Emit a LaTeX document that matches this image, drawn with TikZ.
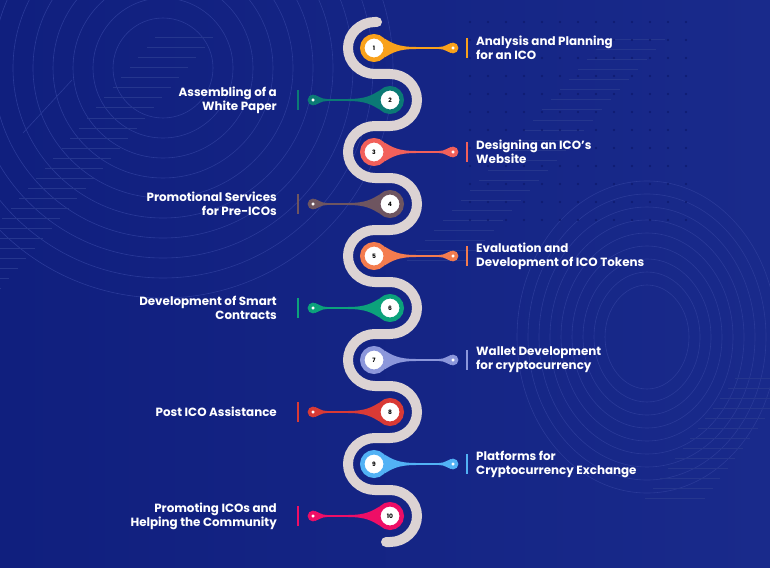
\documentclass[tikz,border=0pt]{standalone}
\usepackage{fontspec}
\setmainfont{Poppins}
\usetikzlibrary{calc}
\definecolor{bgA}{HTML}{101F7E}
\definecolor{bgB}{HTML}{192A8B}
\definecolor{ringc}{HTML}{2A3A99}
\definecolor{stripec}{HTML}{25368E}
\definecolor{dotc}{HTML}{0E1A6E}
\definecolor{serpc}{HTML}{DCD3D3}
\definecolor{c1}{HTML}{F9A11B}
\definecolor{c2}{HTML}{0B7A75}
\definecolor{c3}{HTML}{F2605A}
\definecolor{c4}{HTML}{6E5560}
\definecolor{c5}{HTML}{F47C4E}
\definecolor{c6}{HTML}{0CA27B}
\definecolor{c7}{HTML}{8C97DB}
\definecolor{c8}{HTML}{D93A35}
\definecolor{c9}{HTML}{52B2F5}
\definecolor{c10}{HTML}{EE0E66}
\tikzset{
  pinc/.style={circle, fill=white, line width=4.5pt, minimum size=23.5pt, inner sep=0pt, text=black, font=\bfseries\fontsize{6}{6}\selectfont},
  pine/.style={circle, fill=white, line width=3.5pt, minimum size=7pt, inner sep=0pt},
  lbl/.style={text=white, inner sep=0pt, font=\bfseries\fontsize{11.9}{14}\selectfont},
  sepbar/.style={line width=1.5pt},
  serp/.style={draw=serpc, line width=10pt, line cap=round},
  bgring/.style={draw=ringc, line width=0.6pt},
  bgstripe/.style={draw=stripec, line width=1pt}
}
\newcommand{\pinright}[4]{%
  \coordinate (c#1) at (374,-#2);
  \fill[#3, shift={(c#1)}] (10.5,-9.5) .. controls (18,-5) and (24,-1) .. (42,-1) -- (42,1) .. controls (24,1) and (18,5) .. (10.5,9.5) -- cycle;
  \fill[#3, shift={(453,-#2)}] (-14,-1) .. controls (-8,-1) and (-6,-4) .. (-2,-5) -- (-2,5) .. controls (-6,4) and (-8,1) .. (-14,1) -- cycle;
  \node[pinc, draw=#3] (n#1) at (c#1) {#1};
  \node[pine, draw=#3] (e#1) at (453,-#2) {};
  \draw[#3, line width=2pt] (n#1) -- (e#1);
  \node[lbl, anchor=west, align=left] (t#1) at (476,-#2) {#4};
  \draw[#3, sepbar] ([xshift=-9pt, yshift=10pt]t#1.west) -- ([xshift=-9pt, yshift=-10pt]t#1.west);
}
\newcommand{\pinleft}[4]{%
  \coordinate (c#1) at (390,-#2);
  \fill[#3, shift={(c#1)}, xscale=-1] (10.5,-9.5) .. controls (18,-5) and (24,-1) .. (42,-1) -- (42,1) .. controls (24,1) and (18,5) .. (10.5,9.5) -- cycle;
  \fill[#3, shift={(313,-#2)}, xscale=-1] (-14,-1) .. controls (-8,-1) and (-6,-4) .. (-2,-5) -- (-2,5) .. controls (-6,4) and (-8,1) .. (-14,1) -- cycle;
  \node[pinc, draw=#3] (n#1) at (c#1) {#1};
  \node[pine, draw=#3] (e#1) at (313,-#2) {};
  \draw[#3, line width=2pt] (n#1) -- (e#1);
  \node[lbl, anchor=east, align=right] (t#1) at (277,-#2) {#4};
  \draw[#3, sepbar] ([xshift=21pt, yshift=10pt]t#1.east) -- ([xshift=21pt, yshift=-10pt]t#1.east);
}
\begin{document}
\begin{tikzpicture}[x=1pt, y=1pt]
\useasboundingbox (0,0) rectangle (770,-567);
\shade[left color=bgA, right color=bgB] (0,0) rectangle (770,-567);
\begin{scope}
  \clip (0,0) rectangle (770,-567);
  \foreach \r in {50,70,...,230} \draw[bgring] (163,-68) circle[radius=\r];
  \foreach \r in {0,...,8} \draw[bgring] (647,-337) ellipse[x radius={42+11*\r}, y radius={52+13*\r}];
  \foreach \k in {0,...,25} \draw[bgstripe] ({155-8.5*\k},{-38-10*\k}) -- ++(58,0);
  \foreach \k in {0,...,22} \draw[bgstripe] ({605-9*\k},{-40-10*\k}) -- ++(60,0);
  \foreach \k in {0,...,12} \draw[bgstripe] ({735-7.5*\k},{-378-10*\k}) -- ++(60,0);
  \foreach \x in {470,488,...,700} \foreach \y in {22,40,...,230} \fill[dotc] (\x,-\y) circle[radius=1.2];
  \draw[bgring] (23,-133) -- (72,-80);
\end{scope}
\draw[serp] (377,-22) -- (375,-22)
  arc[start angle=90, end angle=270, x radius=27, y radius=26] -- (390,-74)
  arc[start angle=90, end angle=-90, x radius=27, y radius=26] -- (375,-126)
  arc[start angle=90, end angle=270, x radius=27, y radius=26] -- (390,-178)
  arc[start angle=90, end angle=-90, x radius=27, y radius=26] -- (375,-230)
  arc[start angle=90, end angle=270, x radius=27, y radius=26] -- (390,-282)
  arc[start angle=90, end angle=-90, x radius=27, y radius=26] -- (375,-334)
  arc[start angle=90, end angle=270, x radius=27, y radius=26] -- (390,-386)
  arc[start angle=90, end angle=-90, x radius=27, y radius=26] -- (375,-438)
  arc[start angle=90, end angle=270, x radius=27, y radius=26] -- (390,-490)
  arc[start angle=90, end angle=-90, x radius=27, y radius=26] -- (386,-542);
\pinright{1}{48}{c1}{Analysis and Planning\\for an ICO}
\pinleft{2}{100}{c2}{Assembling of a\\White Paper}
\pinright{3}{152}{c3}{Designing an ICO's\\Website}
\pinleft{4}{204}{c4}{Promotional Services\\for Pre-ICOs}
\pinright{5}{256}{c5}{Evaluation and\\Development of ICO Tokens}
\pinleft{6}{308}{c6}{Development of Smart\\Contracts}
\pinright{7}{360}{c7}{Wallet Development\\for cryptocurrency}
\pinleft{8}{412}{c8}{Post ICO Assistance}
\pinright{9}{464}{c9}{Platforms for\\Cryptocurrency Exchange}
\pinleft{10}{516}{c10}{Promoting ICOs and\\Helping the Community}
\end{tikzpicture}
\end{document}
